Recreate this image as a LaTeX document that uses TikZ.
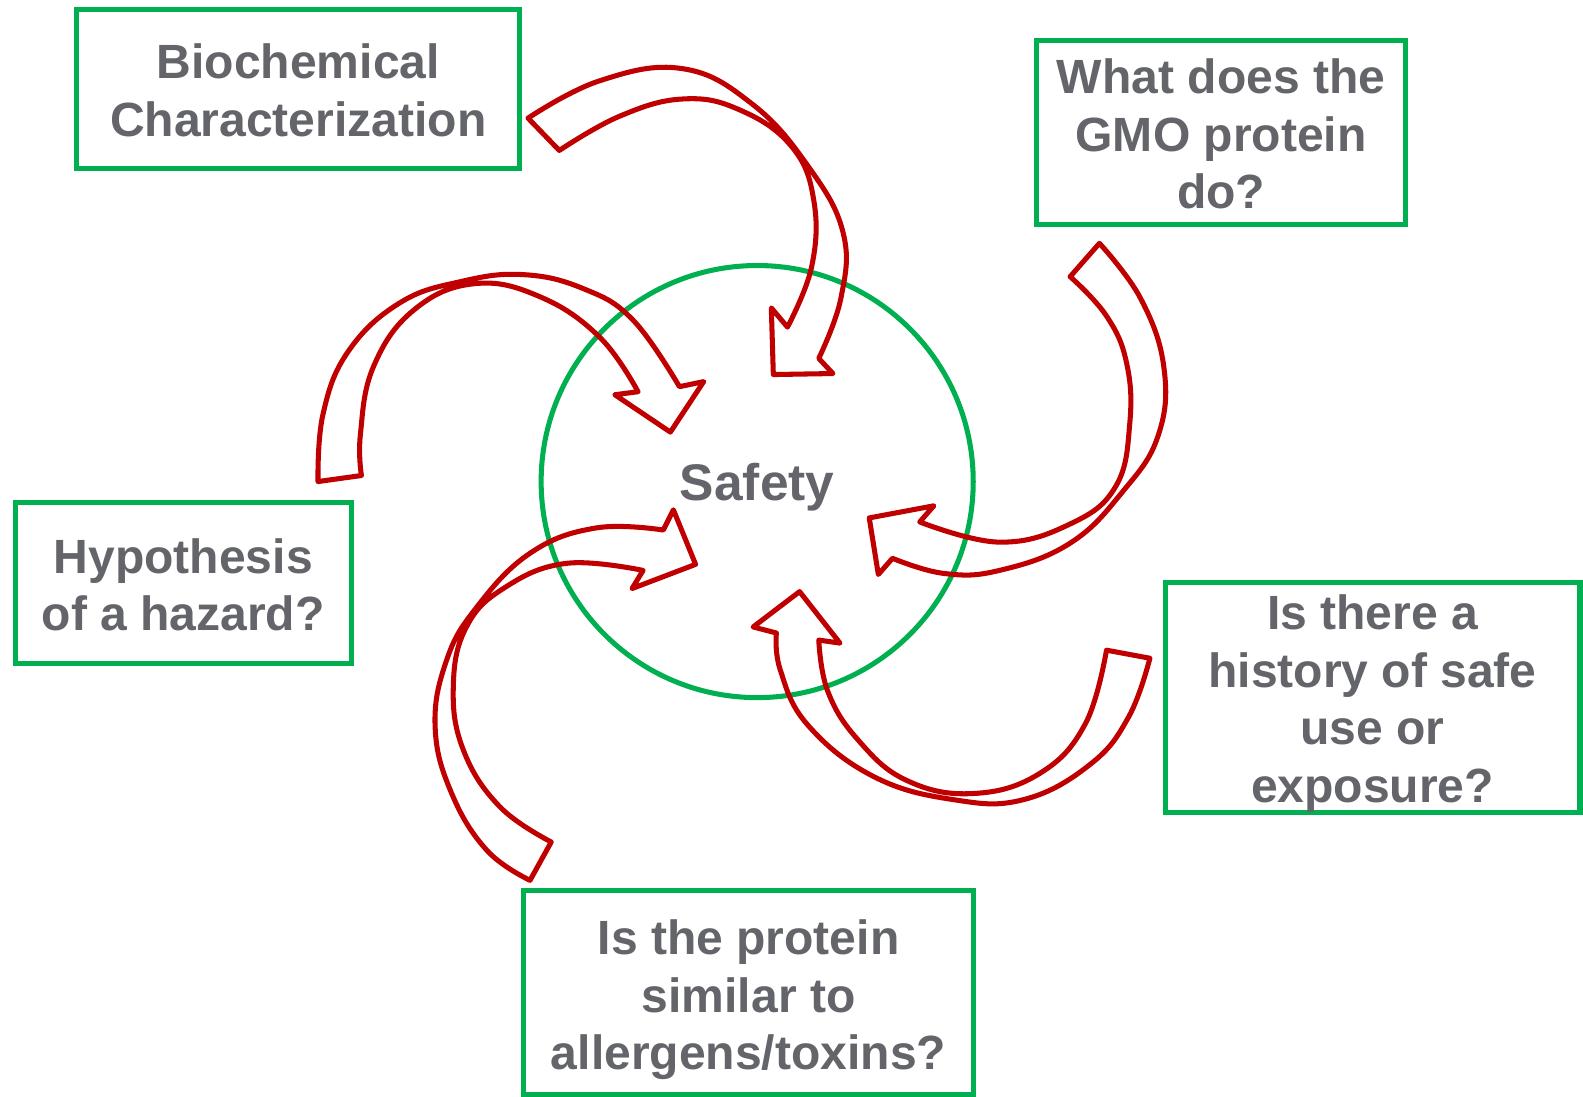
\documentclass[tikz,border=0pt]{standalone}
\usepackage{fontspec}
\setmainfont{Liberation Sans}
\usepackage{xcolor}
\usetikzlibrary{positioning}
\definecolor{boxgreen}{RGB}{0,176,80}
\definecolor{arrowred}{RGB}{192,0,0}
\definecolor{textgray}{RGB}{99,101,106}

\begin{document}
\begin{tikzpicture}[
  x=0.5pt, y=-0.5pt,
  qbox/.style={draw=boxgreen, line width=2.5pt, align=center, inner sep=0pt, text=textgray, font=\fontsize{23.8}{28.5}\selectfont\bfseries},
  ring/.style={draw=boxgreen, line width=2.5pt, circle, minimum size=214pt, inner sep=0pt},
  hubtext/.style={text=textgray, font=\fontsize{25.5}{28}\selectfont\bfseries, inner sep=0pt},
  bentarrow/.style={draw=arrowred, line width=2.5pt, line join=round},
  arc/.style={smooth, tension=0.7}
]
\useasboundingbox (0,0) rectangle (1568,1086);

\node[ring] (ring) at (750,477) {};
\node[hubtext, anchor=base] (safety) at (750,496) {Safety};

\node[qbox, minimum width=219.5pt, minimum height=79pt] (biochem) at (295.5,88) {\rule{0pt}{18.5pt}Biochemical\\Characterization};
\node[qbox, minimum width=182.5pt, minimum height=91pt] (gmo) at (1209.5,131) {\rule{0pt}{19pt}What does the\\GMO protein\\do?};
\node[qbox, minimum width=166.5pt, minimum height=79.5pt] (hazard) at (181.5,577.5) {\rule{0pt}{19pt}Hypothesis\\of a hazard?};
\node[qbox, minimum width=205.5pt, minimum height=112.5pt] (history) at (1359.5,690.5) {\rule{0pt}{23.5pt}Is there a\\history of safe\\use or\\exposure?};
\node[qbox, minimum width=222.5pt, minimum height=101pt] (similar) at (741.5,983) {\rule{0pt}{24.5pt}Is the protein\\similar to\\allergens/toxins?};

% from biochem
\draw[bentarrow] plot[arc] coordinates {(523,117) (594,80) (676,68) (745,103) (800,164) (835,230) (833,295) (811,355)}
  -- (825,370) -- (766,371) -- (764,305)
  -- plot[arc] coordinates {(780,324) (804,264) (806,198) (784,145) (733,109) (677,98) (614,115) (554,149)}
  -- cycle;
% from hazard
\draw[bentarrow] plot[arc] coordinates {(315,477) (320,410) (345,348) (396,300) (456,279) (518,272) (578,286) (627,317) (673,383)}
  -- (697,378) -- (664,428) -- (609,391)
  -- plot[arc] coordinates {(632,388) (594,334) (535,294) (470,281) (410,307) (370,363) (357,430) (358,471)}
  -- cycle;
% from gmo
\draw[bentarrow] plot[arc] coordinates {(1089,241) (1130,296) (1153,365) (1147,432) (1112,487) (1060,538) (990,565) (935,568) (884,553)}
  -- (870,569) -- (861,513) -- (925,501)
  -- plot[arc] coordinates {(911,517) (990,537) (1060,519) (1105,482) (1119,420) (1116,360) (1096,313) (1060,274)}
  -- cycle;
% from similar
\draw[bentarrow] plot[arc] coordinates {(525,872) (482,842) (447,785) (431,720) (442,655) (471,603) (525,548) (590,523) (657,525)}
  -- (667,505) -- (689,559) -- (626,583)
  -- plot[arc] coordinates {(637,565) (561,558) (500,582) (462,621) (449,680) (459,743) (495,799) (546,834)}
  -- cycle;
% from history
\draw[bentarrow] plot[arc] coordinates {(1139,652) (1118,710) (1080,757) (1014,792) (944,792) (865,769) (800,718) (773,664) (769,627)}
  -- (746,621) -- (792,586) -- (832,637)
  -- plot[arc] coordinates {(811,634) (820,685) (850,733) (898,773) (964,786) (1030,766) (1075,717) (1096,644)}
  -- cycle;
\end{tikzpicture}
\end{document}
